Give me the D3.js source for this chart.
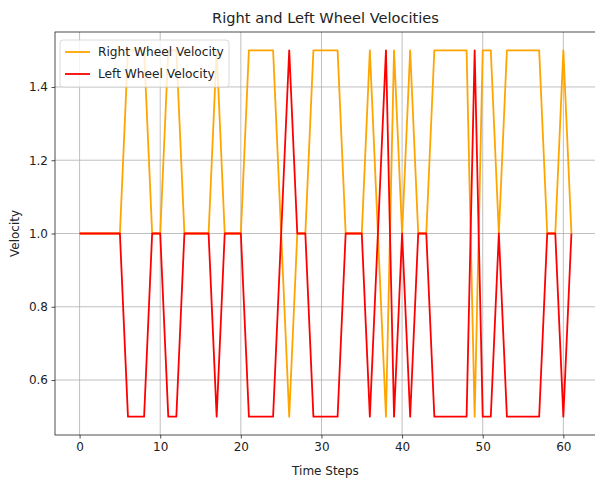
<!DOCTYPE html>
<html>
<head>
<meta charset="utf-8">
<script src="https://cdn.jsdelivr.net/npm/d3@7"></script>
<style>
  body { margin: 0; background: #fff; }
  text { font-family: "DejaVu Sans", sans-serif; fill: #222; }
</style>
</head>
<body>
<div id="chart"></div>
<script>
// Wheel velocities per time step
const timeSteps = d3.range(0, 62);
const leftVelocity = [
  1.0, 1.0, 1.0, 1.0, 1.0, 1.0, 0.5, 0.5, 0.5, 1.0,
  1.0, 0.5, 0.5, 1.0, 1.0, 1.0, 1.0, 0.5, 1.0, 1.0,
  1.0, 0.5, 0.5, 0.5, 0.5, 1.0, 1.5, 1.0, 1.0, 0.5,
  0.5, 0.5, 0.5, 1.0, 1.0, 1.0, 0.5, 1.0, 1.5, 0.5,
  1.0, 0.5, 1.0, 1.0, 0.5, 0.5, 0.5, 0.5, 0.5, 1.5,
  0.5, 0.5, 1.0, 0.5, 0.5, 0.5, 0.5, 0.5, 1.0, 1.0,
  0.5, 1.0
];
const rightVelocity = [
  1.0, 1.0, 1.0, 1.0, 1.0, 1.0, 1.5, 1.5, 1.5, 1.0,
  1.0, 1.5, 1.5, 1.0, 1.0, 1.0, 1.0, 1.5, 1.0, 1.0,
  1.0, 1.5, 1.5, 1.5, 1.5, 1.0, 0.5, 1.0, 1.0, 1.5,
  1.5, 1.5, 1.5, 1.0, 1.0, 1.0, 1.5, 1.0, 0.5, 1.5,
  1.0, 1.5, 1.0, 1.0, 1.5, 1.5, 1.5, 1.5, 1.5, 0.5,
  1.5, 1.5, 1.0, 1.5, 1.5, 1.5, 1.5, 1.5, 1.0, 1.0,
  1.5, 1.0
];
const xTicks = [0, 10, 20, 30, 40, 50, 60];
const yTicks = [0.6, 0.8, 1.0, 1.2, 1.4];
const seriesNames = ["Right Wheel Velocity", "Left Wheel Velocity"];
const seriesColors = ["orange", "red"];

const W = 595, H = 483;
const margin = { top: 32, right: -1, bottom: 48, left: 55 };
const width = W - margin.left - margin.right;
const height = H - margin.top - margin.bottom;

const svg = d3.select("#chart").append("svg")
    .attr("width", W)
    .attr("height", H);

const g = svg.append("g")
    .attr("transform", `translate(${margin.left},${margin.top})`);

const x = d3.scaleLinear().domain([-3.05, 64.05]).range([0, width]);
const y = d3.scaleLinear().domain([0.45, 1.55]).range([height, 0]);

// grid
g.append("g")
    .selectAll("line.xg")
    .data(xTicks)
    .join("line")
    .attr("x1", d => x(d)).attr("x2", d => x(d))
    .attr("y1", 0).attr("y2", height)
    .attr("stroke", "#b0b0b0").attr("stroke-width", 0.8);
g.append("g")
    .selectAll("line.yg")
    .data(yTicks)
    .join("line")
    .attr("x1", 0).attr("x2", width)
    .attr("y1", d => y(d)).attr("y2", d => y(d))
    .attr("stroke", "#b0b0b0").attr("stroke-width", 0.8);

// lines
const series = [rightVelocity, leftVelocity];
const line = d3.line()
    .x((d, i) => x(timeSteps[i]))
    .y(d => y(d));

series.forEach((vals, k) => {
    g.append("path")
        .datum(vals)
        .attr("fill", "none")
        .attr("stroke", seriesColors[k])
        .attr("stroke-width", 1.8)
        .attr("stroke-linejoin", "round")
        .attr("d", line);
});

// axes
const xAxis = g.append("g")
    .attr("transform", `translate(0,${height})`)
    .call(d3.axisBottom(x).tickValues(xTicks).tickSize(3.5).tickPadding(3.5).tickFormat(d3.format("d")));
const yAxis = g.append("g")
    .call(d3.axisLeft(y).tickValues(yTicks).tickSize(3.5).tickPadding(3.5).tickFormat(d3.format(".1f")));
[xAxis, yAxis].forEach(a => {
    a.select(".domain").remove();
    a.selectAll("text").style("font-size", "12px").attr("fill", "#222")
        .style("font-family", "DejaVu Sans, sans-serif");
    a.selectAll(".tick line").attr("stroke", "#222").attr("stroke-width", 0.8);
});

// spines
g.append("rect")
    .attr("x", 0).attr("y", 0)
    .attr("width", width).attr("height", height)
    .attr("fill", "none")
    .attr("stroke", "#222")
    .attr("stroke-width", 0.8);

// title and labels
svg.append("text")
    .attr("x", margin.left + width / 2)
    .attr("y", 23)
    .attr("text-anchor", "middle")
    .style("font-size", "14.6px")
    .text("Right and Left Wheel Velocities");

svg.append("text")
    .attr("x", margin.left + width / 2)
    .attr("y", 475)
    .attr("text-anchor", "middle")
    .style("font-size", "12px")
    .text("Time Steps");

svg.append("text")
    .attr("transform", `translate(19,${margin.top + height / 2}) rotate(-90)`)
    .attr("text-anchor", "middle")
    .style("font-size", "12px")
    .text("Velocity");

// legend
const legend = g.append("g").attr("transform", "translate(5,8)");
legend.append("rect")
    .attr("width", 169).attr("height", 47)
    .attr("rx", 3)
    .attr("fill", "white").attr("fill-opacity", 0.8)
    .attr("stroke", "#d0d0d0").attr("stroke-width", 0.8);
seriesNames.forEach((name, i) => {
    const row = legend.append("g").attr("transform", `translate(0,${12 + i * 22})`);
    row.append("line")
        .attr("x1", 5).attr("x2", 30)
        .attr("y1", 0).attr("y2", 0)
        .attr("stroke", seriesColors[i]).attr("stroke-width", 1.8);
    row.append("text")
        .attr("x", 38).attr("y", 4)
        .style("font-size", "12.2px")
        .text(name);
});
</script>
</body>
</html>
